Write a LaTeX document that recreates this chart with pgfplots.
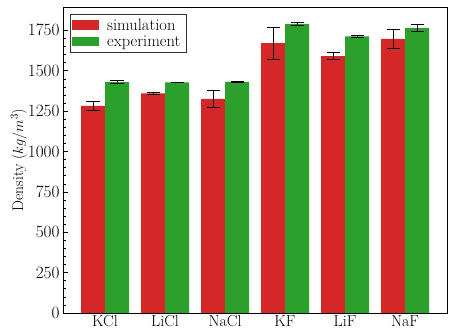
\documentclass[border=0pt]{standalone}
\usepackage{pgfplots}
\pgfplotsset{compat=1.18}
\usepackage{pgfplotstable}

\definecolor{simred}{HTML}{D62728}
\definecolor{expgreen}{HTML}{2CA02C}

% density in kg/m^3 with standard deviation
\pgfplotstableread{
x  sim   simerr  exp   experr
0  1283  29      1430  8
1  1360  8       1428  3
2  1326  51      1432  4
3  1671  98      1791  10
4  1591  21      1713  7
5  1698  59      1766  21
}\densdata

\begin{document}
\begin{tikzpicture}
\begin{axis}[
  name=ax,
  scale only axis,
  width=384bp, height=306bp,
  ybar=0pt, bar width=24bp,
  xmin=-0.7, xmax=5.7,
  ymin=0, ymax=1895,
  xtick={0,1,2,3,4,5},
  xticklabels={KCl,LiCl,NaCl,KF,LiF,NaF},
  ytick={0,250,500,750,1000,1250,1500,1750},
  yticklabel style={/pgf/number format/1000 sep={}},
  minor y tick num=4,
  tick align=inside,
  xtick pos=bottom, ytick pos=left,
  major tick length=5bp, minor tick length=2.5bp,
  tick style={black, line width=0.6pt},
  axis line style={line width=0.8pt},
  ylabel={Density ($kg/m^3$)},
  ylabel style={yshift=-6bp},
  tick label style={font=\fontsize{16}{19}\selectfont},
  xticklabel style={yshift=1bp},
  label style={font=\fontsize{15.5}{19}\selectfont},
  legend style={at={(0.018,0.977)}, anchor=north west, draw=black!80,
    line width=0.6pt, inner xsep=2bp, inner ysep=2.5bp,
    font=\fontsize{16.5}{19}\selectfont, row sep=0pt,
    nodes={inner xsep=4bp, inner ysep=2bp}},
  legend cell align=left,
  legend image code/.code={\fill[#1] (0bp,-4.5bp) rectangle (27bp,5bp);
    \path (31bp,0bp);},
  every axis plot/.append style={
    error bars/y dir=both, error bars/y explicit,
    error bars/error bar style={black, line width=0.8pt},
    error bars/error mark options={rotate=90, mark size=6.5bp, line width=0.8pt, black}},
]
\addplot[fill=simred, draw=none]
  table[x=x, y=sim, y error=simerr] {\densdata};
\addlegendentry{simulation}
\addplot[fill=expgreen, draw=none]
  table[x=x, y=exp, y error=experr] {\densdata};
\addlegendentry{experiment}
\end{axis}
\path ([shift={(-63bp,-22bp)}]ax.south west) rectangle ([shift={(7bp,7bp)}]ax.north east);
\end{tikzpicture}
\end{document}
